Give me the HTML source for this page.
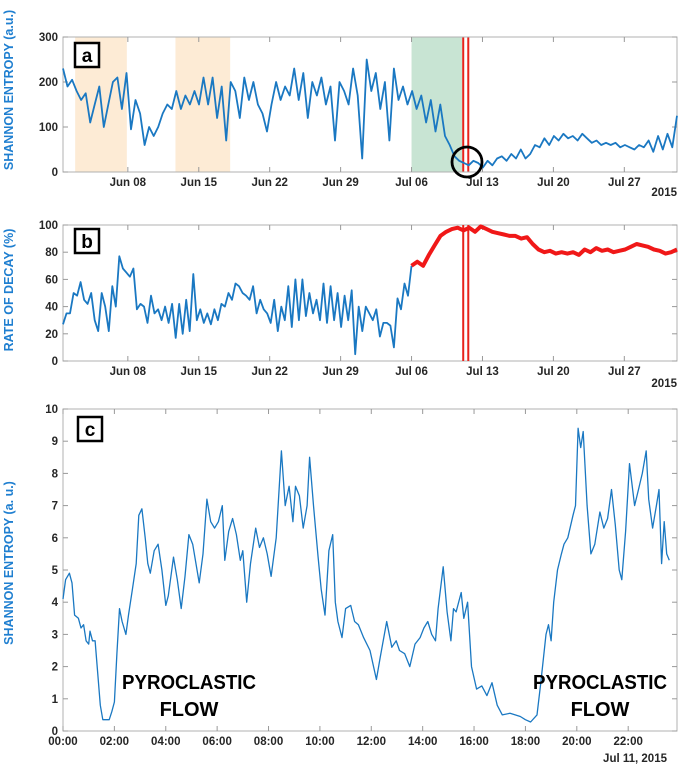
<!DOCTYPE html>
<html><head><meta charset="utf-8"><style>
body{margin:0;background:#fff;}
svg{display:block;font-family:"Liberation Sans",sans-serif;}
.tk{font-size:11.5px;font-weight:bold;fill:#262626;}
.yt{font-size:12.5px;font-weight:bold;fill:#1f7fd0;}
</style></head><body>
<svg id="fig" width="678" height="769" viewBox="0 0 678 769"></svg>
<script>
// ---- Panel a data ----
const aVals1=[230,190,205,180,160,175,110,150,190,100,150,200,210,140,220,95,160,130,60,100,80,100,130,150,140,180,140,170,150,180,150,210,150,210,120,190,70,200,180,120,210,160,200,150,130,90,150,200,160,190,170,230,160,220,120,200,170,210,150,190,70,200,180,150,230,170,30,250,180,220,140,200,70,230,160,190,150,180,140];
const aVals2=[140,170,110,160,90,150,80,60,35,25,20,15,25,20,10,25,15,30,35,25,40,30,50,30,40,60,55,75,60,80,70,85,75,80,70,85,75,65,70,60,65,60,65,55,60,55,50,60,55,70,45,80,50,85,55,125];
const aStart=0.6, aMid=35.5, aEnd=61.2;
const aBands=[[1.8,6.9,'#fdebd5'],[11.7,17.1,'#fdebd5'],[35.0,40.0,'#c8e4d3']];
const eventDays=[40.1,40.6];
const dateTicks=[7,14,21,28,35,42,49,56];
const dateLabels=['Jun 08','Jun 15','Jun 22','Jun 29','Jul 06','Jul 13','Jul 20','Jul 27'];
// ---- Panel b data ----
const bBlue=[27,35,35,50,48,58,45,42,50,30,22,50,40,22,55,40,77,68,65,62,68,38,42,40,28,48,35,38,30,40,28,42,17,42,20,45,22,64,30,38,28,35,27,38,30,42,40,50,45,57,55,50,48,45,55,35,45,38,35,28,45,22,40,30,55,25,60,30,60,33,50,35,45,30,57,28,55,30,50,25,48,30,52,5,40,22,40,35,30,38,18,28,28,26,10,46,38,57,48,70];
const bRed=[70,73,70,78,85,92,95,97,98,96,98,95,99,97,95,94,93,92,92,90,91,86,82,80,81,79,80,79,80,78,82,80,83,81,82,80,81,82,84,86,85,84,82,81,79,80,82];
const bRedBlob=[5.4,5.8];
// ---- Panel c data ----
const cHours=[0,0.1,0.25,0.35,0.45,0.6,0.7,0.8,0.9,1.0,1.05,1.15,1.25,1.35,1.45,1.55,1.7,1.8,1.9,2.0,2.1,2.2,2.3,2.45,2.55,2.7,2.85,2.95,3.07,3.2,3.3,3.4,3.55,3.7,3.85,4.0,4.1,4.3,4.45,4.6,4.75,4.9,5.05,5.3,5.45,5.6,5.75,5.9,6.05,6.2,6.3,6.45,6.6,6.75,6.9,7.0,7.15,7.3,7.5,7.65,7.8,7.95,8.1,8.3,8.5,8.65,8.8,8.95,9.05,9.2,9.35,9.5,9.6,9.75,9.93,10.05,10.2,10.35,10.5,10.6,10.7,10.86,11.0,11.2,11.35,11.5,11.7,11.95,12.2,12.35,12.6,12.8,12.97,13.1,13.3,13.5,13.7,13.9,14.05,14.2,14.35,14.5,14.6,14.8,14.95,15.1,15.2,15.3,15.5,15.6,15.75,15.9,16.1,16.3,16.5,16.7,16.9,17.1,17.4,17.6,17.8,18.0,18.2,18.45,18.6,18.8,18.9,19.0,19.1,19.25,19.4,19.5,19.65,19.85,19.95,20.05,20.15,20.25,20.4,20.55,20.7,20.9,21.05,21.2,21.35,21.5,21.65,21.75,21.9,22.05,22.25,22.4,22.55,22.7,22.8,22.95,23.1,23.2,23.3,23.4,23.5,23.6,23.7,23.85];
const cVals=[4.1,4.7,4.9,4.6,3.6,3.5,3.2,3.3,2.8,2.7,3.1,2.8,2.8,1.8,0.8,0.35,0.35,0.35,0.6,0.9,2.4,3.8,3.4,3.0,3.6,4.4,5.2,6.7,6.9,6.0,5.2,4.9,5.6,5.8,5.0,3.9,4.2,5.4,4.7,3.8,4.8,6.1,5.8,4.6,5.5,7.2,6.5,6.3,6.5,7.0,5.3,6.2,6.6,6.1,5.3,5.6,4.0,5.2,6.3,5.7,6.0,5.5,4.8,6.0,8.7,7.0,7.6,6.5,7.6,7.3,6.3,7.0,8.5,7.0,5.4,4.4,3.6,5.6,6.1,4.0,3.4,2.9,3.8,3.9,3.4,3.3,2.9,2.5,1.6,2.3,3.4,2.6,2.8,2.5,2.4,2.0,2.7,2.9,3.2,3.4,3.0,2.8,3.8,5.1,3.7,2.8,3.8,3.7,4.3,3.5,4.0,2.0,1.3,1.4,1.1,1.5,0.8,0.5,0.55,0.5,0.45,0.35,0.28,0.5,1.5,3.0,3.3,2.8,4.0,5.0,5.5,5.8,6.0,6.7,7.0,9.4,8.8,9.3,7.0,5.5,5.8,6.8,6.3,6.6,7.5,6.4,5.0,4.7,6.2,8.3,7.0,7.5,8.0,8.7,7.2,6.3,7.0,7.5,5.2,6.5,5.5,5.3];
const hourTicks=[0,2,4,6,8,10,12,14,16,18,20,22];
const hourLabels=['00:00','02:00','04:00','06:00','08:00','10:00','12:00','14:00','16:00','18:00','20:00','22:00'];

const NS='http://www.w3.org/2000/svg';
const svg=document.getElementById('fig');
function mk(tag,attrs,parent){const e=document.createElementNS(NS,tag);for(const k in attrs)e.setAttribute(k,attrs[k]);(parent||svg).appendChild(e);return e;}
function lin(d0,d1,r0,r1){return v=>r0+(v-d0)/(d1-d0)*(r1-r0);}
const L=63,R=677;

function axesBox(g,top,bot,xs,xticks,xlabels,yticks,ys,ylabs){
  const fr=mk('rect',{x:L,y:top,width:R-L,height:bot-top,fill:'none',stroke:'#b0b0b0','stroke-width':1},g);
  
  xticks.forEach((t,i)=>{const x=xs(t);
    mk('line',{x1:x,x2:x,y1:bot,y2:bot-5,stroke:'#999'},g);mk('line',{x1:x,x2:x,y1:top,y2:top+5,stroke:'#999'},g);
    const tx=mk('text',{x:x,y:bot+14,'text-anchor':'middle',class:'tk'},g);tx.textContent=xlabels[i];
    });
  yticks.forEach((t,i)=>{const y=ys(t);
    mk('line',{x1:L,x2:L+5,y1:y,y2:y,stroke:'#999'},g);mk('line',{x1:R,x2:R-5,y1:y,y2:y,stroke:'#999'},g);
    const tx=mk('text',{x:L-5,y:y+4,'text-anchor':'end',class:'tk'},g);tx.textContent=ylabs[i];
    });
}
function path(pts,g,color,w){const p=mk('path',{d:pts.map((q,i)=>(i?'L':'M')+q[0].toFixed(1)+','+q[1].toFixed(1)).join(''),fill:'none',stroke:color,'stroke-width':w,'stroke-linejoin':'round'},g);return p;}
function label(g,txt,x,y){const r=mk('rect',{x:x,y:y,width:24,height:24,fill:'#fff',stroke:'#000','stroke-width':2.5},g);
  
  const t=mk('text',{x:x+12,y:y+19,'text-anchor':'middle','font-size':19,'font-weight':'bold',fill:'#000'},g);t.textContent=txt;
  }
function ytitle(g,txt,x,cy){const t=mk('text',{transform:`translate(${x},${cy}) rotate(-90)`,'text-anchor':'middle',class:'yt'},g);t.textContent=txt;
  }
function evenPts(vals,d0,d1,xs,ys){return vals.map((v,i)=>[xs(d0+i*(d1-d0)/(vals.length-1)),ys(v)]);}

// Panel a
const ga=mk('g',{});
const xa=lin(aStart,aEnd,L,R), ya=lin(0,300,172,37);
aBands.forEach(b=>{const r=mk('rect',{x:xa(b[0]),y:37,width:xa(b[1])-xa(b[0]),height:135,fill:b[2]},ga);
  });
eventDays.forEach(d=>{const l=mk('line',{x1:xa(d),x2:xa(d),y1:37,y2:172,stroke:'#e8231c','stroke-width':2},ga);
  });
axesBox(ga,37,172,xa,dateTicks,dateLabels,[0,100,200,300],ya,['0','100','200','300']);
const pa=path(evenPts(aVals1,aStart,aMid,xa,ya).concat(evenPts(aVals2,aMid,aEnd,xa,ya)),ga,'#1a78c2',1.8);

const circ=mk('circle',{cx:467,cy:162,r:15,fill:'none',stroke:'#000','stroke-width':2.8},ga);

label(ga,'a',75,43);ytitle(ga,'SHANNON ENTROPY (a.u.)',13,90);
let yr=mk('text',{x:677,y:196,'text-anchor':'end',class:'tk'},ga);yr.textContent='2015';


// Panel b
const gb=mk('g',{});
const yb=lin(0,100,361,225);
axesBox(gb,225,361,xa,dateTicks,dateLabels,[0,20,40,60,80,100],yb,['0','20','40','60','80','100']);
eventDays.forEach(d=>{const l=mk('line',{x1:xa(d),x2:xa(d),y1:225,y2:361,stroke:'#e8231c','stroke-width':2},gb);
  });
const bluePts=evenPts(bBlue,aStart,35,xa,yb);
const pb=path(bluePts,gb,'#1a78c2',1.8);
const blob=bluePts.filter(p=>p[0]>=xa(bRedBlob[0])&&p[0]<=xa(bRedBlob[1]));
const pbb=path(blob,gb,'#f02020',4);
const pr=path(evenPts(bRed,35,aEnd,xa,yb),gb,'#f01818',4);
label(gb,'b',75,229);ytitle(gb,'RATE OF DECAY (%)',13,290);
yr=mk('text',{x:677,y:387,'text-anchor':'end',class:'tk'},gb);yr.textContent='2015';


// Panel c
const gc=mk('g',{});
const xc=lin(0,23.9,L,R), yc=lin(0,10,731,409);
const yct=[0,1,2,3,4,5,6,7,8,9,10];
axesBox(gc,409,731,xc,hourTicks,hourLabels,yct,yc,yct.map(String));
const pc=path(cHours.map((h,i)=>[xc(h),yc(cVals[i])]),gc,'#1a78c2',1.3);

label(gc,'c',78,417);ytitle(gc,'SHANNON ENTROPY (a. u.)',13,563);
yr=mk('text',{x:667,y:762,'text-anchor':'end',class:'tk'},gc);yr.textContent='Jul 11, 2015';

[[189,0],[600,1]].forEach(a=>{
  const t1=mk('text',{x:a[0],y:689,'text-anchor':'middle','font-size':20,'font-weight':'bold',fill:'#000',textLength:134,lengthAdjust:'spacingAndGlyphs'},gc);t1.textContent='PYROCLASTIC';
  
  const t2=mk('text',{x:a[0],y:716,'text-anchor':'middle','font-size':20,'font-weight':'bold',fill:'#000'},gc);t2.textContent='FLOW';
  
});
</script>
</body></html>
